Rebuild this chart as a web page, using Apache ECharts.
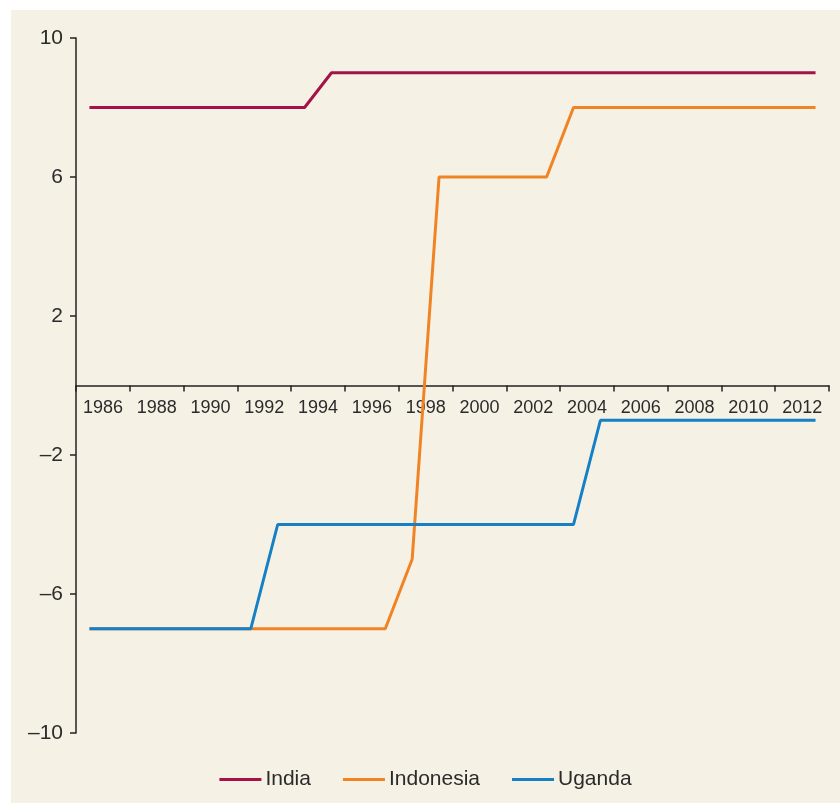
<!DOCTYPE html>
<html>
<head>
<meta charset="utf-8">
<script src="https://cdn.jsdelivr.net/npm/echarts@6/dist/echarts.min.js"></script>
<style>
  html, body { margin: 0; padding: 0; background: #ffffff; }
  #chart-container { position: absolute; left: 11px; top: 10px; width: 829px; height: 793px; background: #f5f1e4; }
</style>
</head>
<body>
<div id="chart-container"></div>
<script>
// years 1986..2013, one point per year
var years = [
  "1986", "1987", "1988", "1989", "1990", "1991", "1992", "1993", "1994", "1995",
  "1996", "1997", "1998", "1999", "2000", "2001", "2002", "2003", "2004", "2005",
  "2006", "2007", "2008", "2009", "2010", "2011", "2012", "2013"
];

var india = [8, 8, 8, 8, 8, 8, 8, 8, 8, 9, 9, 9, 9, 9, 9, 9, 9, 9, 9, 9, 9, 9, 9, 9, 9, 9, 9, 9];
var indonesia = [-7, -7, -7, -7, -7, -7, -7, -7, -7, -7, -7, -7, -5, 6, 6, 6, 6, 6, 8, 8, 8, 8, 8, 8, 8, 8, 8, 8];
var uganda = [-7, -7, -7, -7, -7, -7, -7, -4, -4, -4, -4, -4, -4, -4, -4, -4, -4, -4, -4, -1, -1, -1, -1, -1, -1, -1, -1, -1];

var font = "Liberation Sans";
var textColor = "#2b2b2b";

var chartDom = document.getElementById("chart-container");
var myChart = echarts.init(chartDom);

function line(name, data, color) {
  return {
    name: name,
    type: "line",
    data: data,
    symbol: "none",
    lineStyle: { width: 3, color: color },
    itemStyle: { color: color },
    z: 2
  };
}

// grid is 695px tall for -10..10, so zero sits half way up
var zeroOffset = -695 / 2;

var option = {
  backgroundColor: "#f5f1e4",
  animation: false,
  textStyle: { fontFamily: font },
  grid: { left: 65, right: 11, top: 28, bottom: 70, containLabel: false },
  legend: {
    bottom: 8,
    left: "center",
    icon: "rect",
    itemWidth: 42,
    itemHeight: 3,
    itemGap: 32,
    textStyle: { fontFamily: font, fontSize: 21, color: textColor, padding: [0, 0, 0, -1] },
    data: ["India", "Indonesia", "Uganda"]
  },
  xAxis: {
    type: "category",
    data: years,
    boundaryGap: true,
    offset: zeroOffset,
    axisLine: { show: true, onZero: false, lineStyle: { color: "#222222", width: 1.5 } },
    axisTick: { show: true, interval: 1, alignWithLabel: false, length: 6, lineStyle: { color: "#222222", width: 1.5 } },
    axisLabel: {
      interval: 1,
      margin: 14,
      fontFamily: font,
      fontSize: 18,
      color: textColor,
      padding: [0, 0, 0, 27]
    },
    splitLine: { show: false }
  },
  yAxis: {
    type: "value",
    min: -10,
    max: 10,
    interval: 4,
    axisLine: { show: true, lineStyle: { color: "#222222", width: 1.5 } },
    axisTick: { show: true, length: 6, lineStyle: { color: "#222222", width: 1.5 } },
    axisLabel: {
      margin: 13,
      fontFamily: font,
      fontSize: 21,
      color: textColor,
      formatter: function (v) { return String(v).replace("-", "\u2013"); }
    },
    splitLine: { show: false }
  },
  series: [
    line("India", india, "#a3134a"),
    line("Indonesia", indonesia, "#f08424"),
    line("Uganda", uganda, "#1580c6")
  ]
};

option && myChart.setOption(option);

window.addEventListener("resize", function () {
  myChart.resize();
});
</script>
</body>
</html>
